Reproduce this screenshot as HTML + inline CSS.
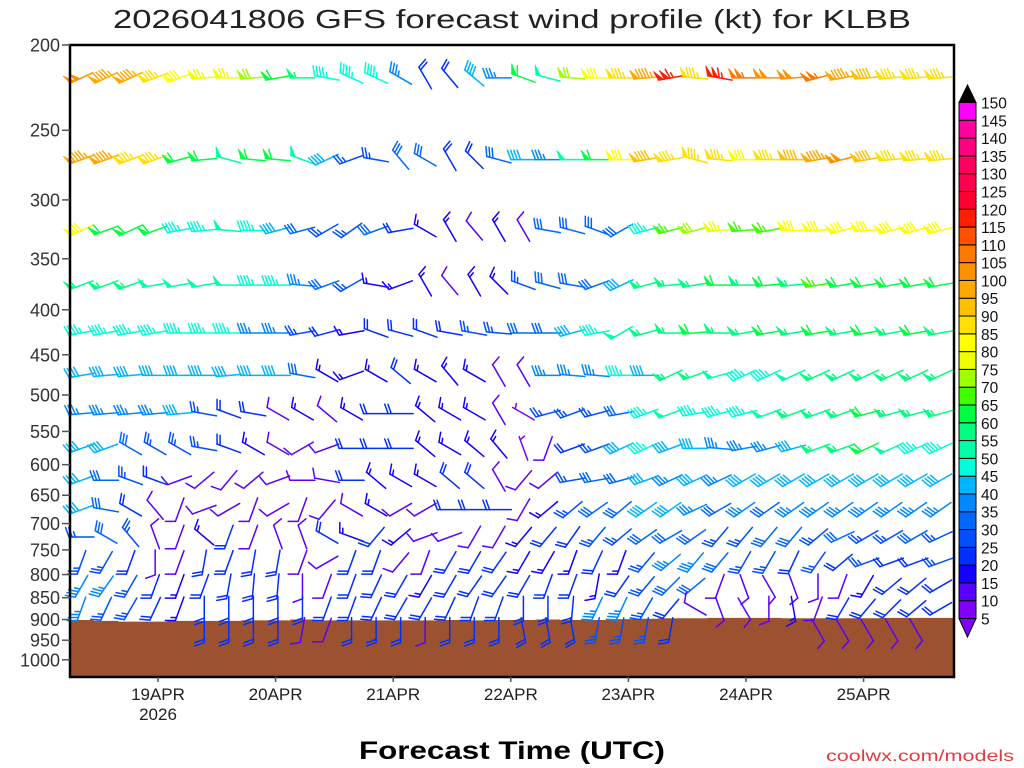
<!DOCTYPE html>
<html><head><meta charset="utf-8"><title>GFS wind profile KLBB</title>
<style>html,body{margin:0;padding:0;background:#fff;}svg{display:block;}</style>
</head><body>
<svg id="chart" width="1024" height="768" viewBox="0 0 1024 768" xmlns="http://www.w3.org/2000/svg" font-family="Liberation Sans, sans-serif">
<rect width="1024" height="768" fill="#fff"/>
<text x="512" y="28" text-anchor="middle" font-size="26" textLength="798" lengthAdjust="spacingAndGlyphs" fill="#222">2026041806 GFS forecast wind profile (kt) for KLBB</text>
<g id="ground"></g>
<g id="barbs"></g>
<rect x="70" y="45" width="884" height="632" fill="none" stroke="#000" stroke-width="2.5"/>
<g id="yaxis"></g>
<g id="xaxis"></g>
<text x="512" y="759" text-anchor="middle" font-size="25" font-weight="bold" textLength="306" lengthAdjust="spacingAndGlyphs" fill="#000">Forecast Time (UTC)</text>
<text x="1014" y="761" text-anchor="end" font-size="16" textLength="188" lengthAdjust="spacingAndGlyphs" fill="#e03c3c">coolwx.com/models</text>
<g id="cbar"></g>
</svg>
<script>
const yTicks = [200,250,300,350,400,450,500,550,600,650,700,750,800,850,900,950,1000];
const xTickDays = [1,2,3,4,5,6,7];
const xTickLabels = ["19APR","20APR","21APR","22APR","23APR","24APR","25APR"];
const levels = [218,270,325,375,425,475,525,575,625,675,725,775,825,875,925];
const surfaceP = [901,903,905,905,903,903,903,902,902,900,902,902,902,902,902,901,902,901,901,900,901,901,899,898,897,897,896,896,896,897,897,897,897,896,896,896];
const cbarValues = [5,10,15,20,25,30,35,40,45,50,55,60,65,70,75,80,85,90,95,100,105,110,115,120,125,130,135,140,145,150];
const cbarColors = ['#8000ff','#5a00ff','#1400ff','#0030ff','#0050ff','#0068ff','#0088ff','#00b4ff','#00ffd8','#00ffa8','#00ff80','#00ff40','#40ff00','#a0ff00','#f0ff00','#ffff00','#ffe000','#ffc000','#ffa800','#ff9000','#ff7800','#ff5000','#ff1e00','#ff0030','#ff0050','#ff0060','#ff0080','#ff00a0','#ff00ff'];
const windDir = [
[245,245,245,250,250,265,270,265,260,270,280,295,295,300,330,320,310,270,290,285,275,270,270,265,260,275,280,270,270,265,255,260,265,265,265,265],
[250,250,250,250,255,265,285,275,275,290,245,250,280,320,300,330,315,285,270,270,270,270,270,260,260,285,275,270,270,270,260,255,260,265,265,265],
[245,250,245,250,260,265,275,270,255,255,240,235,250,260,300,330,320,330,330,280,285,290,240,255,255,255,265,265,260,270,265,255,265,255,255,255],
[250,250,250,260,260,260,270,270,270,275,250,240,280,250,330,320,330,315,290,285,280,250,245,255,265,260,270,270,265,265,260,260,260,260,260,260],
[260,260,260,260,270,270,270,270,270,260,255,260,290,285,290,280,280,275,270,270,255,260,240,255,270,265,270,260,260,260,260,260,260,260,260,260],
[260,265,265,270,270,270,265,270,270,280,300,250,300,310,300,320,300,330,330,270,275,275,270,270,245,250,255,245,245,245,245,245,245,245,245,245],
[265,265,265,265,265,280,290,280,300,300,310,300,270,270,310,300,300,330,300,255,250,255,260,250,250,260,255,255,250,250,250,250,255,255,255,255],
[250,250,300,300,300,280,290,300,300,240,250,270,270,270,310,300,310,320,340,200,250,250,245,245,250,270,275,260,255,255,250,250,245,245,245,245],
[250,270,290,290,250,230,220,230,250,270,280,270,310,300,300,310,310,330,220,230,260,260,255,250,245,245,245,240,240,240,240,240,240,240,240,240],
[250,280,300,320,200,250,240,200,240,200,220,300,300,240,240,270,270,270,210,230,230,235,230,235,235,245,240,235,235,235,235,235,235,235,235,235],
[270,300,320,340,200,310,200,200,340,340,300,290,220,230,250,250,210,210,220,220,215,220,230,235,240,235,220,220,220,220,230,245,240,240,240,245],
[200,210,200,180,200,190,200,190,190,200,240,200,200,220,200,210,210,215,210,210,200,205,200,220,230,220,220,210,210,205,215,230,250,250,250,250],
[210,215,210,200,200,200,190,185,185,180,200,200,205,210,210,210,215,215,210,200,200,190,215,220,225,230,200,160,150,160,180,200,210,230,230,240],
[200,205,210,205,200,180,180,180,180,180,200,200,205,210,210,205,200,200,180,180,185,205,205,210,220,300,160,150,180,170,200,210,220,225,230,240],
[180,180,180,180,180,180,180,180,180,190,200,180,180,180,180,180,180,180,170,170,170,190,190,190,190,180,180,180,180,180,150,150,150,150,150,180]
];
const windSpeed = [
[100,95,95,85,80,75,75,70,60,55,45,45,45,35,20,20,40,35,60,50,70,80,85,95,115,85,115,105,100,100,105,95,90,85,85,85],
[95,95,85,85,60,60,50,60,60,50,40,25,25,30,30,20,20,30,40,35,50,60,80,90,85,85,85,80,85,90,95,100,90,85,85,85],
[80,60,60,60,45,45,50,45,40,30,25,25,30,20,15,15,10,15,10,30,30,30,30,45,65,70,75,65,65,80,80,80,80,80,80,80],
[55,55,55,50,50,50,50,45,45,35,30,25,15,15,15,10,15,15,25,30,30,30,40,55,55,55,60,55,60,55,65,60,60,60,60,60],
[45,45,45,45,45,45,45,35,35,25,20,15,20,20,20,20,25,25,30,30,40,45,50,55,55,60,55,55,60,55,60,55,60,55,60,55],
[40,40,40,40,40,40,40,40,40,30,15,15,15,20,15,15,15,10,10,35,35,35,45,40,55,55,50,45,45,50,55,55,55,55,55,55],
[35,35,35,35,40,25,20,20,10,15,10,15,20,20,15,15,15,10,5,25,25,25,30,45,50,45,45,45,50,55,55,55,60,55,55,55],
[40,40,30,25,25,25,20,15,10,10,10,20,20,20,15,15,15,15,5,10,20,25,40,45,40,40,35,35,35,40,55,55,60,50,45,45],
[40,30,25,20,10,10,10,10,10,10,10,20,15,15,15,20,20,10,10,10,25,30,30,40,35,40,35,40,40,40,40,40,40,40,40,40],
[40,30,20,10,10,10,10,10,10,10,10,10,15,10,10,20,20,20,10,15,25,30,30,40,40,35,30,35,30,35,35,35,35,35,35,35],
[25,30,25,10,10,15,20,10,10,10,20,15,20,15,10,10,10,10,15,20,20,25,25,30,30,30,25,25,30,30,25,30,25,25,30,25],
[25,25,20,10,10,20,20,20,20,10,10,20,20,10,10,20,20,20,15,15,15,20,15,25,35,35,30,25,25,20,25,20,25,20,20,25],
[35,35,25,20,15,20,20,20,20,10,10,20,20,20,15,20,20,20,20,20,20,15,20,25,30,30,10,10,10,10,10,10,15,20,20,20],
[35,25,25,20,15,20,20,20,20,20,20,20,20,20,20,20,20,20,20,20,20,35,35,25,20,10,10,10,10,15,10,20,20,20,20,20],
[null,null,null,null,null,20,20,20,20,10,10,20,20,20,10,20,20,20,20,20,20,25,25,25,20,null,null,null,null,null,10,10,10,10,10,null]
];

const NS='http://www.w3.org/2000/svg';
const PX0=70, PX1=954, PY0=45, PY1=677;
const DAYPX=117.6;
function yScale(p){ return PY0 + 382*Math.log(p/200); }
function xDay(d){ return 158 + (d-1)*DAYPX; }
function xCol(k){ return 81.5 + k*24.55; }
function colorFor(s){ let i=Math.floor((s-5)/5); if(i<0)i=0; if(i>=cbarColors.length)i=cbarColors.length-1; return cbarColors[i]; }
function mk(tag, attrs, parent){ const e=document.createElementNS(NS,tag); for(const k in attrs) e.setAttribute(k, attrs[k]); parent.appendChild(e); return e; }

// ground
const g=document.getElementById('ground');
let pts=[];
for(let k=0;k<surfaceP.length;k++){
  const xa = k===0?PX0:xCol(k)-12.3, xb = k===surfaceP.length-1?PX1:xCol(k)+12.3;
  const y=yScale(surfaceP[k]);
  pts.push(xa+','+y, xb+','+y);
}
pts.push(PX1+','+PY1, PX0+','+PY1);
const gp=mk('polygon',{points:pts.join(' '),fill:'#9c5230'},g);



// barbs (centered on the data point)
const bg=document.getElementById('barbs');
function barb(cx0,cy0,dir,spd,parent){
  const L=25, F=10, step=3.2;
  const r=dir*Math.PI/180;
  const ux=Math.sin(r), uy=-Math.cos(r);
  const sx=cx0-ux*L/2, sy=cy0-uy*L/2;
  const a=70*Math.PI/180;
  const fx=ux*Math.cos(a)-uy*Math.sin(a), fy=ux*Math.sin(a)+uy*Math.cos(a);
  const col=colorFor(spd);
  const grp=mk('g',{stroke:col,fill:col,'stroke-width':1.5,'stroke-linecap':'round'},parent);
  
  
  const ex=sx+ux*L, ey=sy+uy*L;
  mk('line',{x1:sx,y1:sy,x2:ex,y2:ey},grp);
  let s=Math.round(spd/5)*5;
  let pos=0;
  while(s>=50){
    const bx=ex-ux*pos, by=ey-uy*pos;
    const cx=ex-ux*(pos+5), cy=ey-uy*(pos+5);
    mk('polygon',{points:`${bx},${by} ${bx+fx*F},${by+fy*F} ${cx},${cy}`,'stroke-width':0.8},grp);
    pos+=6; s-=50;
  }
  while(s>=10){
    const bx=ex-ux*pos, by=ey-uy*pos;
    mk('line',{x1:bx,y1:by,x2:bx+fx*F,y2:by+fy*F},grp);
    pos+=step; s-=10;
  }
  if(s>=5){
    if(pos===0) pos=step;
    const bx=ex-ux*pos, by=ey-uy*pos;
    mk('line',{x1:bx,y1:by,x2:bx+fx*F*0.55,y2:by+fy*F*0.55},grp);
  }
}
for(let i=0;i<levels.length;i++){
  const y=yScale(levels[i]);
  for(let k=0;k<windDir[i].length;k++){
    const s=windSpeed[i][k];
    if(s===null||s===undefined) continue;
    barb(xCol(k),y,windDir[i][k],s,bg);
  }
}

// y axis
const ya=document.getElementById('yaxis');
yTicks.forEach(p=>{
  const y=yScale(p);
  const t=mk('line',{x1:62,y1:y,x2:70,y2:y,stroke:'#555','stroke-width':1.5},ya);
  
  
  const tx=mk('text',{x:60,y:y+6.5,'text-anchor':'end','font-size':18,fill:'#333'},ya);
  
  
  tx.textContent=p;
});

// x axis
const xa=document.getElementById('xaxis');
xTickDays.forEach((d,i)=>{
  const x=xDay(d);
  const t=mk('line',{x1:x,y1:PY1,x2:x,y2:PY1+5,stroke:'#555','stroke-width':1.5},xa);
  
  
  const tx=mk('text',{x:x,y:700,'text-anchor':'middle','font-size':17,fill:'#222'},xa);
  
  
  tx.textContent=xTickLabels[i];
});
const yr=mk('text',{x:xDay(1),y:720,'text-anchor':'middle','font-size':17,fill:'#222'},xa);


yr.textContent='2026';

// colorbar
const cb=document.getElementById('cbar');
const CX0=959, CX1=976, CTOP=102.5, CBOT=618.5;
const n=cbarColors.length, bh=(CBOT-CTOP)/n;
for(let i=0;i<n;i++){
  const yb=CBOT-(i+1)*bh;
  const r=mk('rect',{x:CX0,y:yb,width:CX1-CX0,height:bh,fill:cbarColors[i],stroke:'#000','stroke-width':1},cb);
  
  
}
const tu=mk('polygon',{points:`${CX0},${CTOP} ${CX1},${CTOP} ${(CX0+CX1)/2},85`,fill:'#000',stroke:'#000'},cb);


const td=mk('polygon',{points:`${CX0},${CBOT} ${CX1},${CBOT} ${(CX0+CX1)/2},637`,fill:cbarColors[0],stroke:'#000'},cb);


cbarValues.forEach((v,i)=>{
  const y=CBOT-i*bh;
  const tx=mk('text',{x:981,y:y+6,'font-size':15.5,fill:'#111'},cb);
  
  
  tx.textContent=v;
});
</script>
</body></html>
